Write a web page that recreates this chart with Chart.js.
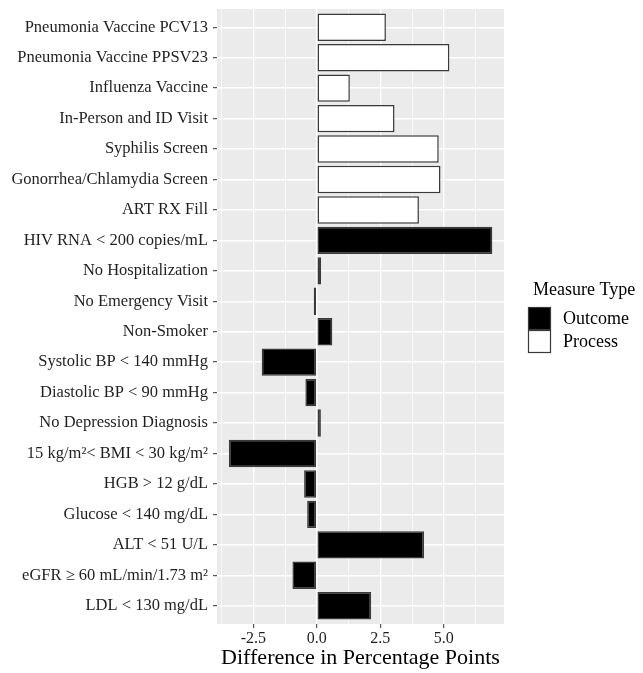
<!DOCTYPE html>
<html>
<head>
<meta charset="utf-8">
<title>Difference in Percentage Points</title>
<script src="https://cdn.jsdelivr.net/npm/chart.js@4.4.1/dist/chart.umd.min.js"></script>
<style>
  body { margin: 0; background: #fff; }
  #chart { display: block; }
</style>
</head>
<body>
<canvas id="chart" width="643" height="673"></canvas>
<script>
const categories = [
  'Pneumonia Vaccine PCV13',
  'Pneumonia Vaccine PPSV23',
  'Influenza Vaccine',
  'In-Person and ID Visit',
  'Syphilis Screen',
  'Gonorrhea/Chlamydia Screen',
  'ART RX Fill',
  'HIV RNA < 200 copies/mL',
  'No Hospitalization',
  'No Emergency Visit',
  'Non-Smoker',
  'Systolic BP < 140 mmHg',
  'Diastolic BP < 90 mmHg',
  'No Depression Diagnosis',
  '15 kg/m\u00b2< BMI < 30 kg/m\u00b2',
  'HGB > 12 g/dL',
  'Glucose < 140 mg/dL',
  'ALT < 51 U/L',
  'eGFR \u2265 60 mL/min/1.73 m\u00b2',
  'LDL < 130 mg/dL'
];
const differences = [2.72, 5.22, 1.30, 3.06, 4.80, 4.87, 4.02, 6.91, 0.17, -0.12,
  0.61, -2.17, -0.45, 0.16, -3.46, -0.50, -0.38, 4.22, -0.96, 2.14];
const measureTypes = ['Process', 'Process', 'Process', 'Process', 'Process', 'Process', 'Process',
  'Outcome', 'Outcome', 'Outcome', 'Outcome', 'Outcome', 'Outcome', 'Outcome', 'Outcome',
  'Outcome', 'Outcome', 'Outcome', 'Outcome', 'Outcome'];
const majorTicks = [-2.5, 0, 2.5, 5];
const minorTicks = [-3.75, -1.25, 1.25, 3.75, 6.25];

Chart.defaults.font.family = '"Liberation Serif", "DejaVu Serif", serif';

function pointsFor(type) {
  const pts = [];
  for (let i = 0; i < categories.length; i++) {
    if (measureTypes[i] === type) pts.push({ x: differences[i], y: i + 1 });
  }
  return pts;
}

const isMajor = v => majorTicks.includes(v);

// grey ggplot-style panel behind the grid
const panelBackground = {
  id: 'panelBackground',
  beforeDraw(chart) {
    const { ctx, chartArea: a } = chart;
    ctx.save();
    ctx.fillStyle = '#ebebeb';
    ctx.fillRect(a.left, a.top, a.right - a.left, a.bottom - a.top);
    ctx.restore();
  }
};

// legend on the right, keys stacked without gaps
const sideLegend = {
  id: 'sideLegend',
  afterDraw(chart) {
    const { ctx, chartArea: a } = chart;
    const left = a.right + 24;
    const mid = (a.top + a.bottom) / 2;
    ctx.save();
    ctx.font = '18px "Liberation Serif"';
    ctx.textBaseline = 'middle';
    ctx.fillStyle = '#000';
    ctx.fillText('Measure Type', left + 5, mid - 26);
    chart.data.datasets.forEach((ds, i) => {
      const y = mid - 9.5 + i * 23;
      ctx.fillStyle = ds.backgroundColor;
      ctx.fillRect(left, y, 23, 23);
      ctx.strokeStyle = ds.borderColor;
      ctx.lineWidth = 1.2;
      ctx.strokeRect(left + 0.5, y + 0.5, 22, 22);
      ctx.fillStyle = '#000';
      ctx.fillText(ds.label, left + 35, y + 12);
    });
    ctx.restore();
  }
};

new Chart(document.getElementById('chart'), {
  type: 'bar',
  data: {
    datasets: [
      { label: 'Outcome', data: pointsFor('Outcome'), backgroundColor: '#000000', borderColor: '#3a3a3a' },
      { label: 'Process', data: pointsFor('Process'), backgroundColor: '#ffffff', borderColor: '#3a3a3a' }
    ]
  },
  options: {
    indexAxis: 'y',
    responsive: false,
    animation: false,
    layout: { padding: { top: 9, right: 139, bottom: 0, left: 0 } },
    datasets: {
      bar: { grouped: false, categoryPercentage: 0.9, barPercentage: 1, borderWidth: 1.5, borderSkipped: false }
    },
    plugins: { legend: { display: false }, tooltip: { enabled: false } },
    scales: {
      x: {
        type: 'linear',
        min: -3.93,
        max: 7.37,
        afterBuildTicks: s => { s.ticks = majorTicks.concat(minorTicks).sort((a, b) => a - b).map(v => ({ value: v })); },
        afterFit: s => { s.height = 49; },
        grid: {
          color: '#ffffff',
          lineWidth: c => isMajor(c.tick.value) ? 1.4 : 0.7,
          tickColor: c => isMajor(c.tick.value) ? '#333333' : 'rgba(0,0,0,0)',
          tickWidth: 1,
          tickLength: 4
        },
        border: { display: false },
        ticks: {
          autoSkip: false,
          maxRotation: 0,
          padding: 1,
          color: '#1f1f1f',
          font: { size: 16 },
          callback: v => isMajor(v) ? v.toFixed(1) : ''
        },
        title: {
          display: true,
          text: 'Difference in Percentage Points',
          color: '#000',
          font: { size: 22 },
          padding: { top: 0, bottom: 2 }
        }
      },
      y: {
        type: 'linear',
        reverse: true,
        offset: false,
        min: 0.4,
        max: 20.6,
        afterBuildTicks: s => { s.ticks = categories.map((c, i) => ({ value: i + 1 })); },
        afterFit: s => { s.width = 217; s.paddingTop = 0; s.paddingBottom = 0; },
        grid: { offset: false, color: '#ffffff', lineWidth: 1.4, tickColor: '#333333', tickWidth: 1, tickLength: 4 },
        border: { display: false },
        ticks: {
          autoSkip: false,
          padding: 5,
          color: '#1f1f1f',
          font: { size: 16.5 },
          callback: v => categories[v - 1]
        }
      }
    }
  },
  plugins: [panelBackground, sideLegend]
});
</script>
</body>
</html>
